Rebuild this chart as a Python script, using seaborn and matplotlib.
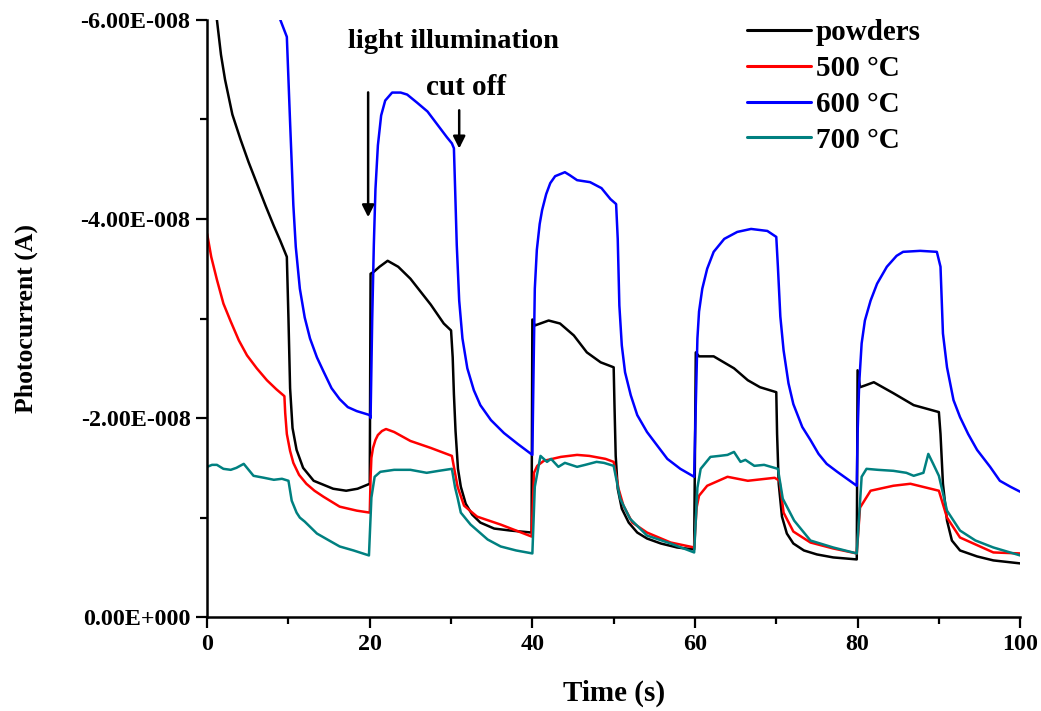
import numpy as np
import pandas as pd
import matplotlib
matplotlib.use('Agg')
import matplotlib.pyplot as plt
from matplotlib.ticker import AutoMinorLocator
import seaborn as sns

# values, current magnitude in units of 1e-8 A
powders_t = [1.0, 1.2, 1.7, 2.2, 3.1, 4.1, 5.1, 6.1, 7.2, 8.2, 9.0, 9.8, 10.0, 10.2, 10.5, 11.0, 11.8,
             13.1, 15.5, 17.1, 18.5, 20.0,
             20.1, 20.5, 21.2, 22.2, 23.5, 25.0, 27.5, 29.1, 30.0,
             30.2, 30.35, 30.55, 30.85, 31.2, 31.8, 32.6, 33.6, 35.3, 37.3, 39.9,
             40.0, 40.3, 42.0, 43.4, 45.1, 46.7, 48.4, 50.0,
             50.1, 50.25, 50.5, 51.0, 51.85, 52.9, 54.1, 55.8, 57.8, 59.9,
             60.1, 60.5, 62.3, 64.8, 66.5, 68.0, 70.0,
             70.1, 70.3, 70.7, 71.3, 72.1, 73.4, 75.0, 77.0, 79.9,
             80.0, 80.3, 81.0, 82.0, 84.4, 86.9, 90.0,
             90.2, 90.5, 91.0, 91.6, 92.6, 94.7, 96.7, 100.0]
powders_v = [6.2, 6.0, 5.65, 5.4, 5.05, 4.8, 4.57, 4.36, 4.13, 3.93, 3.78, 3.62, 3.0, 2.3, 1.9, 1.68, 1.5,
             1.37, 1.29, 1.27, 1.29, 1.34,
             3.45, 3.47, 3.52, 3.58, 3.52, 3.40, 3.14, 2.95, 2.88,
             2.61, 2.24, 1.87, 1.49, 1.31, 1.14, 1.03, 0.95, 0.89, 0.87, 0.85,
             2.99, 2.93, 2.98, 2.95, 2.83, 2.66, 2.56, 2.51,
             2.13, 1.62, 1.29, 1.09, 0.95, 0.85, 0.79, 0.74, 0.70, 0.68,
             2.66, 2.62, 2.62, 2.50, 2.38, 2.31, 2.26,
             1.84, 1.34, 1.01, 0.84, 0.74, 0.67, 0.63, 0.60, 0.58,
             2.48, 2.31, 2.33, 2.36, 2.25, 2.13, 2.06,
             1.84, 1.34, 0.97, 0.77, 0.67, 0.61, 0.57, 0.54]

c500_t = [0.0, 0.5, 1.2, 2.0, 2.9, 3.9, 4.9, 6.1, 7.35, 8.5, 9.5, 9.6, 9.8, 10.2, 10.6, 11.3, 12.2,
          13.2, 14.3, 16.3, 18.4, 20.0,
          20.1, 20.2, 20.4, 20.7, 21.0, 21.5, 22.0, 23.0, 25.0, 27.5, 30.1,
          30.8, 31.6, 33.2, 36.1, 39.9,
          40.2, 40.6, 41.4, 43.5, 45.5, 47.0, 49.0, 50.0,
          50.6, 51.2, 52.3, 54.1, 57.0, 59.9,
          60.2, 60.5, 61.5, 64.0, 66.5, 69.8, 70.4,
          70.9, 72.1, 74.2, 77.0, 79.9,
          80.3, 81.6, 84.4, 86.5, 90.0,
          91.0, 92.6, 96.7, 100.0]
c500_v = [3.85, 3.62, 3.39, 3.15, 2.97, 2.78, 2.63, 2.50, 2.38, 2.29, 2.22, 2.05, 1.84, 1.67, 1.55, 1.43, 1.34,
          1.27, 1.21, 1.11, 1.07, 1.05,
          1.40, 1.60, 1.70, 1.78, 1.83, 1.87, 1.89, 1.86, 1.77, 1.70, 1.62,
          1.31, 1.12, 1.01, 0.93, 0.81,
          1.45, 1.52, 1.57, 1.61, 1.63, 1.62, 1.59, 1.56,
          1.29, 1.12, 0.95, 0.85, 0.75, 0.70,
          1.10, 1.22, 1.32, 1.41, 1.37, 1.40, 1.37,
          1.05, 0.86, 0.75, 0.69, 0.64,
          1.10, 1.27, 1.32, 1.34, 1.27,
          1.00, 0.80, 0.65, 0.64]

c600_t = [8.6, 9.0, 9.8, 10.2, 10.4, 10.6, 10.9, 11.4, 12.0, 12.65, 13.5, 14.3, 15.3, 16.3, 17.3, 18.4, 20.0,
          20.1, 20.3, 20.5, 20.7, 21.0, 21.4, 21.9, 22.75, 23.8, 24.6, 25.8, 27.1, 28.3, 29.5, 30.1, 30.35,
          30.5, 30.7, 31.0, 31.4, 32.0, 32.8, 33.6, 34.9, 36.5, 38.2, 40.0,
          40.15, 40.3, 40.55, 40.9, 41.2, 41.7, 42.2, 42.8, 43.4, 44.0, 44.6, 45.5, 47.1, 48.5, 49.6, 50.3,
          50.5, 50.7, 51.0, 51.4, 52.1, 52.9, 54.1, 55.3, 56.6, 58.2, 59.9,
          60.1, 60.3, 60.5, 60.9, 61.5, 62.3, 63.6, 65.2, 66.9, 68.9, 70.0,
          70.2, 70.5, 70.9, 71.5, 72.1, 73.2, 74.2, 75.2, 76.2, 77.5, 78.7, 79.9,
          80.0, 80.2, 80.5, 80.9, 81.6, 82.4, 83.6, 84.8, 85.6, 87.7, 89.75,
          90.2, 90.5, 91.0, 91.8, 92.6, 93.6, 94.7, 96.3, 97.5, 98.8, 100.0]
c600_v = [6.3, 6.0, 5.83, 4.97, 4.56, 4.14, 3.72, 3.30, 3.01, 2.80, 2.61, 2.47, 2.30, 2.19, 2.11, 2.07, 2.03,
          2.00, 2.99, 3.74, 4.30, 4.74, 5.04, 5.19, 5.27, 5.27, 5.25, 5.17, 5.08, 4.95, 4.82, 4.76, 4.71,
          4.30, 3.74, 3.18, 2.80, 2.50, 2.28, 2.13, 1.98, 1.85, 1.74, 1.63,
          2.50, 3.30, 3.69, 3.95, 4.09, 4.25, 4.36, 4.43, 4.45, 4.47, 4.44, 4.39, 4.37, 4.31, 4.20, 4.15,
          3.80, 3.13, 2.73, 2.46, 2.23, 2.03, 1.86, 1.73, 1.59, 1.49, 1.41,
          2.13, 2.80, 3.07, 3.30, 3.50, 3.67, 3.80, 3.87, 3.90, 3.88, 3.82,
          3.52, 3.02, 2.68, 2.35, 2.14, 1.91, 1.78, 1.64, 1.54, 1.46, 1.39, 1.32,
          1.84, 2.35, 2.75, 2.98, 3.18, 3.35, 3.52, 3.63, 3.67, 3.68, 3.67,
          3.52, 2.85, 2.51, 2.18, 2.01, 1.84, 1.68, 1.51, 1.37, 1.31, 1.26]

c700_t = [0.0, 0.6, 1.2, 2.0, 2.9, 3.6, 4.5, 5.0, 5.7, 7.0, 8.2, 9.2, 10.0,
          10.4, 11.0, 11.4, 12.0, 13.5, 15.0, 16.3, 18.0, 19.9,
          20.2, 20.6, 21.3, 23.0, 25.0, 27.0, 28.5, 30.1,
          30.5, 30.8, 31.2, 32.4, 34.5, 36.1, 38.0, 40.0,
          40.3, 41.0, 41.8, 42.3, 43.2, 44.0, 45.5, 46.5, 47.9, 48.8, 49.6, 50.0,
          50.8, 52.0, 54.1, 57.0, 59.9,
          60.3, 60.7, 61.9, 63.0, 64.0, 64.8, 65.6, 66.2, 67.3, 68.5, 70.2,
          70.8, 72.2, 74.2, 77.0, 79.9,
          80.5, 81.1, 82.5, 84.4, 86.0, 86.9, 88.1, 88.7, 89.3, 90.0,
          91.0, 92.6, 94.5, 96.7, 100.0]
c700_v = [1.51, 1.53, 1.53, 1.49, 1.48, 1.50, 1.54, 1.49, 1.42, 1.40, 1.38, 1.39, 1.37,
          1.17, 1.05, 1.00, 0.96, 0.84, 0.77, 0.71, 0.67, 0.62,
          1.20, 1.41, 1.46, 1.48, 1.48, 1.45, 1.47, 1.49,
          1.30, 1.20, 1.05, 0.93, 0.78, 0.71, 0.67, 0.64,
          1.31, 1.62, 1.56, 1.59, 1.51, 1.55, 1.51, 1.53, 1.56, 1.55, 1.53, 1.52,
          1.19, 0.99, 0.82, 0.74, 0.65,
          1.30, 1.49, 1.61, 1.62, 1.63, 1.66, 1.56, 1.58, 1.52, 1.53, 1.49,
          1.19, 0.97, 0.77, 0.70, 0.64,
          1.41, 1.49, 1.48, 1.47, 1.45, 1.42, 1.45, 1.64, 1.54, 1.42,
          1.07, 0.87, 0.77, 0.70, 0.62]

labels = ['powders', '500 °C', '600 °C', '700 °C']
colors = ['#000000', '#ff0000', '#0000ff', '#008080']
y_ticks = [0, -2e-8, -4e-8, -6e-8]
y_ticklabels = ['0.00E+000', '-2.00E-008', '-4.00E-008', '-6.00E-008']

frames = []
for lab, t, v in zip(labels, [powders_t, c500_t, c600_t, c700_t],
                     [powders_v, c500_v, c600_v, c700_v]):
    frames.append(pd.DataFrame({'Time': t, 'Current': -np.array(v) * 1e-8, 'sample': lab}))
df = pd.concat(frames, ignore_index=True)

sns.set_style('ticks')
plt.rcParams['font.family'] = ['Liberation Serif', 'DejaVu Serif']
plt.rcParams['font.weight'] = 'bold'
for k in ['text.color', 'axes.labelcolor', 'xtick.color', 'ytick.color', 'axes.edgecolor']:
    plt.rcParams[k] = 'black'

fig = plt.figure(figsize=(10.41, 7.11), dpi=100)
ax = fig.add_axes([0.199, 0.132, 0.781, 0.840])
sns.lineplot(data=df, x='Time', y='Current', hue='sample', hue_order=labels,
             palette=colors, estimator=None, sort=False, linewidth=1.8, ax=ax)

ax.set_xlim(0, 100)
ax.set_ylim(0, -6e-8)
ax.set_xticks([0, 20, 40, 60, 80, 100])
ax.set_yticks(y_ticks)
ax.set_yticklabels(y_ticklabels)
ax.xaxis.set_minor_locator(AutoMinorLocator(2))
ax.yaxis.set_minor_locator(AutoMinorLocator(2))
ax.tick_params(which='major', length=8, width=1.6, labelsize=17.3, direction='out', pad=4)
ax.tick_params(which='minor', length=5, width=1.6, direction='out')
for lbl in ax.get_xticklabels() + ax.get_yticklabels():
    lbl.set_fontweight('bold')
for s in ['top', 'right']:
    ax.spines[s].set_visible(False)
for s in ['left', 'bottom']:
    ax.spines[s].set_linewidth(1.8)

ax.set_xlabel('Time (s)', fontsize=21, fontweight='bold', labelpad=18)
ax.set_ylabel('Photocurrent (A)', fontsize=18.5, fontweight='bold', labelpad=31)

ax.annotate('', xy=(19.8, -3.99e-8), xytext=(19.8, -5.3e-8),
            arrowprops=dict(arrowstyle='-|>', color='black', lw=1.8, mutation_scale=18))
ax.annotate('', xy=(31.0, -4.68e-8), xytext=(31.0, -5.12e-8),
            arrowprops=dict(arrowstyle='-|>', color='black', lw=1.8, mutation_scale=18))
ax.text(30.3, -5.78e-8, 'light illumination', fontsize=20.5, fontweight='bold',
        ha='center', va='center')
ax.text(31.9, -5.32e-8, 'cut off', fontsize=21, fontweight='bold', ha='center', va='center')

leg = ax.legend(loc='upper left', bbox_to_anchor=(0.632, 1.045), frameon=False,
                fontsize=21, handlelength=2.2, labelspacing=0.3, handletextpad=0.15)
for line in leg.get_lines():
    line.set_linewidth(2.2)
for txt in leg.get_texts():
    txt.set_fontweight('bold')

fig.savefig('out.png', dpi=100)
